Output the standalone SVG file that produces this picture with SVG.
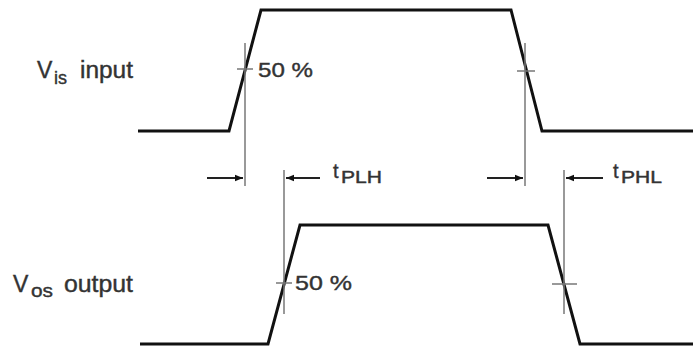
<svg xmlns="http://www.w3.org/2000/svg" width="693" height="347" viewBox="0 0 693 347">
<style>
.wave{fill:none;stroke:#111;stroke-width:3;stroke-linejoin:miter}
.thin{fill:none;stroke:#777;stroke-width:1.5}
.dim{fill:none;stroke:#222;stroke-width:2}
.lbl{font-family:"Liberation Sans",Arial,sans-serif;fill:#333;stroke:#333;stroke-width:0.4}
</style>
<defs>
<marker id="ah" viewBox="0 0 10 10" refX="10" refY="5" markerWidth="17" markerHeight="8" markerUnits="userSpaceOnUse" orient="auto">
<path d="M0,1 L10,5 L0,9 Z" fill="#111"/>
</marker>
</defs>
<rect width="693" height="347" fill="#fff"/>
<g id="input-wave">
<polyline class="wave" points="138,131 229,131 261,10 511,10 542,131 693,131"/>
</g>
<g id="output-wave">
<polyline class="wave" points="140,344 268,344 300,225 548,225 580,344 693,344"/>
</g>
<g id="connectors">
<line class="thin" x1="245" y1="43" x2="245" y2="186"/>
<line class="thin" x1="237" y1="69" x2="253" y2="69"/>
<line class="thin" x1="525" y1="43" x2="525" y2="186"/>
<line class="thin" x1="517" y1="71" x2="535" y2="71"/>
<line class="thin" x1="284" y1="170" x2="284" y2="314"/>
<line class="thin" x1="276" y1="283" x2="292" y2="283"/>
<line class="thin" x1="564" y1="170" x2="564" y2="314"/>
<line class="thin" x1="552" y1="284" x2="577" y2="284"/>
<line class="dim" x1="207" y1="178" x2="243" y2="178" marker-end="url(#ah)"/>
<line class="dim" x1="320" y1="178" x2="286" y2="178" marker-end="url(#ah)"/>
<line class="dim" x1="487" y1="178" x2="523" y2="178" marker-end="url(#ah)"/>
<line class="dim" x1="603" y1="178" x2="566" y2="178" marker-end="url(#ah)"/>
</g>
<g id="label-input">
<text class="lbl" font-size="23"><tspan x="37" y="78">V</tspan><tspan x="54" y="84" font-size="18" textLength="13" lengthAdjust="spacingAndGlyphs">is</tspan><tspan x="80" y="78" textLength="53" lengthAdjust="spacingAndGlyphs">input</tspan></text>
</g>
<g id="label-output">
<text class="lbl" font-size="23"><tspan x="13" y="292">V</tspan><tspan x="31" y="297" font-size="18" textLength="22" lengthAdjust="spacingAndGlyphs">os</tspan><tspan x="64" y="292" textLength="69" lengthAdjust="spacingAndGlyphs">output</tspan></text>
</g>
<g id="label-50-in">
<text class="lbl" x="258" y="77" font-size="21" textLength="55" lengthAdjust="spacingAndGlyphs">50 %</text>
</g>
<g id="label-50-out">
<text class="lbl" x="295" y="290" font-size="21" textLength="57" lengthAdjust="spacingAndGlyphs">50 %</text>
</g>
<g id="label-tplh">
<text class="lbl" font-size="20"><tspan x="333" y="178">t</tspan><tspan x="341" y="183" font-size="16" textLength="41" lengthAdjust="spacingAndGlyphs">PLH</tspan></text>
</g>
<g id="label-tphl">
<text class="lbl" font-size="20"><tspan x="613" y="178">t</tspan><tspan x="621" y="183" font-size="16" textLength="41" lengthAdjust="spacingAndGlyphs">PHL</tspan></text>
</g>
</svg>
